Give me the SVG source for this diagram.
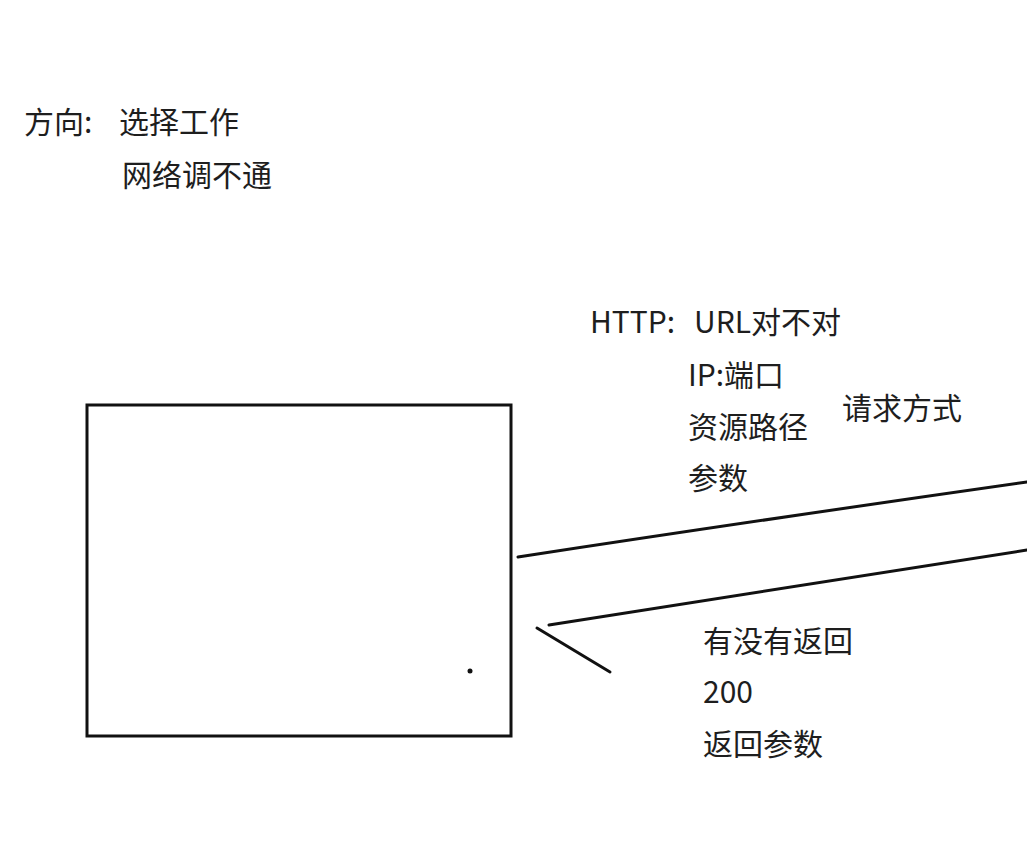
<svg xmlns="http://www.w3.org/2000/svg" width="1027" height="852" viewBox="0 0 1027 852">
<style>
text{font-family:"Noto Sans CJK SC","Liberation Sans",sans-serif;font-size:30px;fill:#1e1e1e}
.ln{stroke:#111;stroke-width:3;fill:none;stroke-linecap:round}
</style>
<rect width="1027" height="852" fill="#fff"/>
<g id="notes">
<text x="24" y="133">方向:</text>
<text x="119" y="133">选择工作</text>
<text x="122" y="186">网络调不通</text>
</g>
<g id="client">
<rect x="87" y="405" width="424" height="331" fill="none" stroke="#111" stroke-width="3"/>
<circle cx="470" cy="671" r="2.5" fill="#111"/>
</g>
<g id="request-notes">
<text x="590" y="333">HTTP:</text>
<text x="694" y="333">URL对不对</text>
<text x="688" y="386">IP:端口</text>
<text x="688" y="438">资源路径</text>
<text x="688" y="489">参数</text>
<text x="842" y="419">请求方式</text>
</g>
<g id="response-notes">
<text x="703" y="652">有没有返回</text>
<text x="703" y="703">200</text>
<text x="703" y="755">返回参数</text>
</g>
<g id="connectors">
<path class="ln" d="M518,557 Q760,520 1027,482"/>
<path class="ln" d="M549,625 Q780,588 1027,550"/>
<path class="ln" d="M537,628 L610,672"/>
</g>
</svg>
